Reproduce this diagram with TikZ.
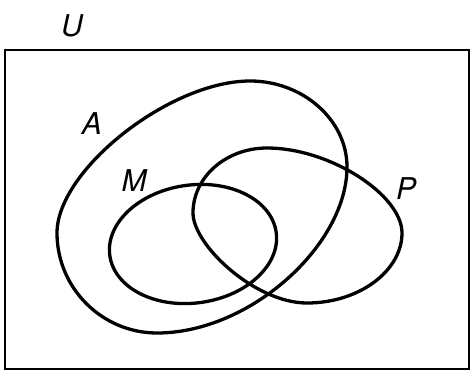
\documentclass[tikz,border=0pt]{standalone}
\usepackage{fontspec}
\setsansfont{TeX Gyre Heros}
\begin{document}
\begin{tikzpicture}[x=1pt,y=-1pt,
  setline/.style={line width=3.3pt,line join=round},
  setlabel/.style={font=\fontsize{30}{30}\selectfont\sffamily\itshape,inner sep=0pt}]
\useasboundingbox (0,0) rectangle (471,372);
\draw[line width=2.6pt] (5,50) rectangle (469,369);
\node[setlabel] (U) at (72,26) {U};
\node[setlabel] (A) at (92,124) {A};
\node[setlabel] (M) at (134,181) {M};
\node[setlabel] (P) at (406,189) {P};
% set A
\draw[setline] (250,81) .. controls (303,81) and (347,120) .. (347,167)
  .. controls (347,245) and (250,333) .. (157,333)
  .. controls (102,333) and (57,288) .. (57,233)
  .. controls (57,170) and (170,81) .. (250,81) -- cycle;
% set M
\draw[setline,rotate around={8:(193,244)}] (193,244) ellipse[x radius=84,y radius=59];
% set P
\draw[setline] (267,148) .. controls (330,148) and (402,195) .. (402,233)
  .. controls (402,271) and (359,303) .. (307,303)
  .. controls (255,303) and (193,245) .. (193,213)
  .. controls (193,177) and (226,148) .. (267,148) -- cycle;
\end{tikzpicture}
\end{document}
